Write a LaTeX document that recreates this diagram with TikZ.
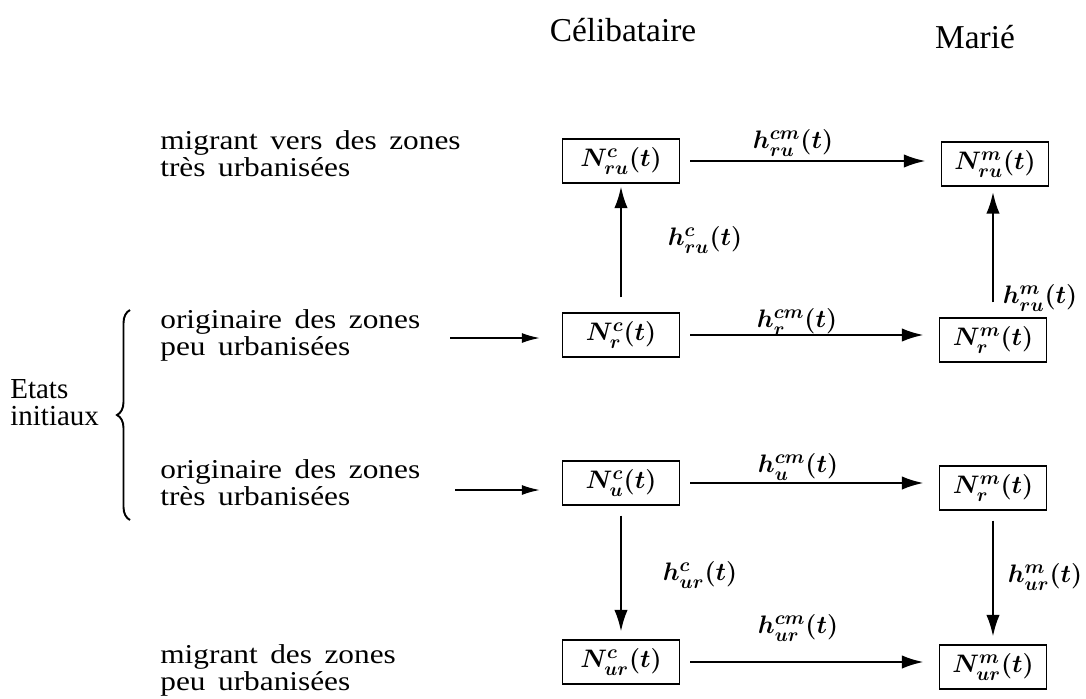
\documentclass[tikz,border=0pt]{standalone}
\usepackage{fontspec}
\usepackage{amsmath}
\setmainfont{Liberation Serif}
\newfontfamily\labfont[FakeStretch=1.15,WordSpace=1.6]{Liberation Serif}
\usetikzlibrary{arrows.meta,decorations.pathreplacing,calc}
\begin{document}
\begin{tikzpicture}[x=0.02cm,y=-0.02cm,
  box/.style={draw, line width=0.8pt, minimum height=0.88cm, inner sep=0pt, font=\fontsize{15}{18}\selectfont\boldmath},
  cbox/.style={box, minimum width=2.34cm},
  mbox/.style={box, minimum width=2.14cm},
  flow/.style={line width=1.6pt, -{Latex[length=0.44cm,width=0.27cm]}},
  inflow/.style={line width=0.9pt, -{Latex[length=0.36cm,width=0.2cm]}},
  rate/.style={font=\fontsize{15}{18}\selectfont\boldmath, inner sep=0pt},
  lab/.style={font=\labfont\fontsize{15.5}{15.4}\selectfont, align=left, anchor=west, inner sep=0pt},
  head/.style={font=\fontsize{19}{22}\selectfont, inner sep=0pt}]
\useasboundingbox (0,0) rectangle (1086,698);

% column heads
\node[head] (cel) at (623,30) {Célibataire};
\node[head] (mar) at (975,37) {Marié};

% row labels
\node[lab] (t1) at (160,154) {migrant vers des zones\\très urbanisées};
\node[lab] (t2) at (160,335) {originaire des zones\\peu urbanisées};
\node[lab] (t3) at (160,483) {originaire des zones\\très urbanisées};
\node[lab] (t4) at (160,670) {migrant des zones\\peu urbanisées};

% initial states
\node[font=\fontsize{16.5}{15.5}\selectfont, align=left, anchor=west, inner sep=0pt] (etats) at (10,403) {Etats\\initiaux};
\coordinate (brb) at (130,520);
\coordinate (brt) at (130,310);
\draw[line width=1.1pt, decorate, decoration={brace, amplitude=0.26cm}] (brb) -- (brt);

% boxes
\node[cbox] (c1) at (621,161) {$N^{c}_{ru}(t)$};
\node[mbox] (m1) at (995,164) {$N^{m}_{ru}(t)$};
\node[cbox] (c2) at (621,335) {$N^{c}_{r}(t)$};
\node[mbox] (m2) at (993,340) {$N^{m}_{r}(t)$};
\node[cbox] (c3) at (621,483) {$N^{c}_{u}(t)$};
\node[mbox] (m3) at (993,488) {$N^{m}_{r}(t)$};
\node[cbox] (c4) at (621,662) {$N^{c}_{ur}(t)$};
\node[mbox] (m4) at (993,667) {$N^{m}_{ur}(t)$};

% horizontal flows
\draw[flow, shorten <=0.2cm, shorten >=0.3cm] (c1.east) -- (c1.east -| m1.west);
\draw[flow, shorten <=0.2cm, shorten >=0.3cm] (c2.east) -- (c2.east -| m2.west);
\draw[flow, shorten <=0.2cm, shorten >=0.3cm] (c3.east) -- (c3.east -| m3.west);
\draw[flow, shorten <=0.2cm, shorten >=0.3cm] (c4.east) -- (c4.east -| m4.west);
\node[rate] (h1) at (793,143) {$h^{cm}_{ru}(t)$};
\node[rate] (h2) at (797,322) {$h^{cm}_{r}(t)$};
\node[rate] (h3) at (798,467) {$h^{cm}_{u}(t)$};
\node[rate] (h4) at (798,628) {$h^{cm}_{ur}(t)$};

% vertical flows
\draw[flow, shorten <=0.3cm, shorten >=0.05cm] (c2.north) -- (c1.south);
\draw[flow, shorten <=0.3cm, shorten >=0.1cm] (m2.north) -- (m2.north |- m1.south);
\draw[flow, shorten <=0.2cm, shorten >=0.15cm] (c3.south) -- (c4.north);
\draw[flow, shorten <=0.2cm, shorten >=0.15cm] (m3.south) -- (m4.north);
\node[rate] (v1) at (705,240) {$h^{c}_{ru}(t)$};
\node[rate] (v2) at (1040,298) {$h^{m}_{ru}(t)$};
\node[rate] (v3) at (700,575) {$h^{c}_{ur}(t)$};
\node[rate] (v4) at (1045,577) {$h^{m}_{ur}(t)$};

% inflows
\coordinate (in2) at (450,338);
\coordinate (in3) at (455,490);
\draw[inflow, shorten >=0.44cm] (in2) -- (in2 -| c2.west);
\draw[inflow, shorten >=0.44cm] (in3) -- (in3 -| c3.west);
\end{tikzpicture}
\end{document}
